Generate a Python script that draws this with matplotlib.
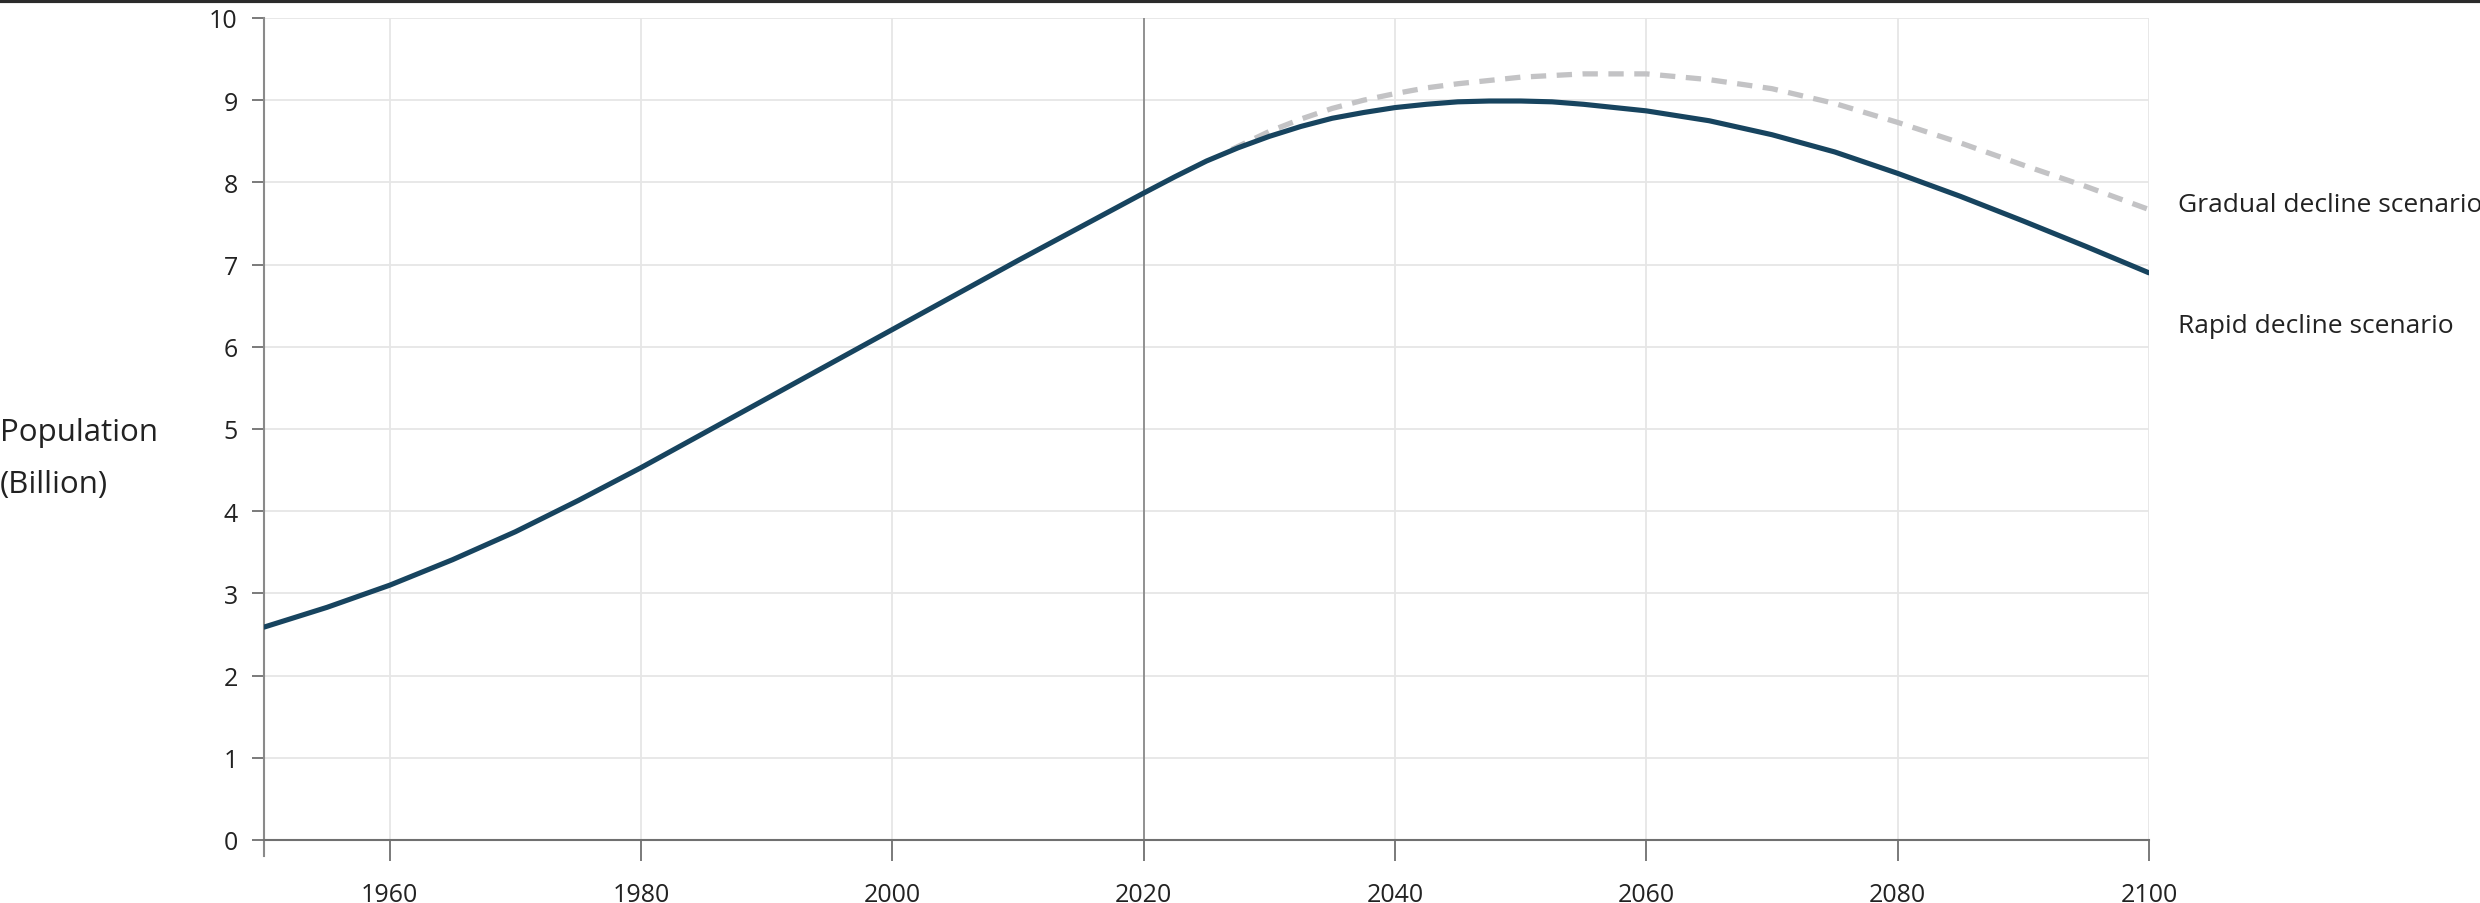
import matplotlib
matplotlib.use("Agg")
import matplotlib.pyplot as plt
from matplotlib.lines import Line2D

plt.rcParams['font.family'] = ['Open Sans', 'DejaVu Sans']

# rapid decline scenario
years_rapid = [1950, 1955, 1960, 1965, 1970, 1975, 1980, 1985, 1990, 1995,
               2000, 2005, 2010, 2015, 2020, 2022.5, 2025, 2027.5, 2030, 2032.5,
               2035, 2037.5, 2040, 2042.5, 2045, 2047.5, 2050, 2052.5, 2055,
               2060, 2065, 2070, 2075, 2080, 2085, 2090, 2095, 2100]
pop_rapid = [2.59, 2.83, 3.10, 3.41, 3.75, 4.13, 4.53, 4.95, 5.37, 5.79,
             6.21, 6.63, 7.05, 7.46, 7.87, 8.07, 8.26, 8.42, 8.56, 8.68,
             8.78, 8.85, 8.91, 8.95, 8.98, 8.99, 8.99, 8.98, 8.95,
             8.87, 8.75, 8.58, 8.37, 8.11, 7.83, 7.53, 7.22, 6.90]

# gradual decline scenario
years_grad = [2027, 2030, 2032.5, 2035, 2037.5, 2040, 2042.5, 2045, 2050,
              2055, 2060, 2065, 2070, 2075, 2080, 2085, 2090, 2095, 2100]
pop_grad = [8.40, 8.62, 8.77, 8.90, 9.00, 9.08, 9.15, 9.20, 9.28,
            9.32, 9.32, 9.25, 9.14, 8.96, 8.73, 8.48, 8.21, 7.95, 7.67]

x_ticks = [1960, 1980, 2000, 2020, 2040, 2060, 2080, 2100]
y_ticks = [0, 1, 2, 3, 4, 5, 6, 7, 8, 9, 10]

fig = plt.figure(figsize=(24.8, 9.04), dpi=100)
ax = fig.add_axes([0.1065, 0.0697, 0.76, 0.9093])

ax.set_xlim(1950, 2100)
ax.set_ylim(0, 10)

# grid
for y in y_ticks[1:]:
    ax.axhline(y, color='#e6e6e6', lw=1.3, zorder=0)
for x in x_ticks:
    ax.axvline(x, color='#e6e6e6', lw=1.3, zorder=0)
ax.axvline(2020, color='#8a8a8a', lw=1.3, zorder=1)

ax.plot(years_grad, pop_grad, color='#c3c3c5', lw=3.8, dashes=(2.9, 2.0), zorder=2,
        solid_capstyle='butt')
ax.plot(years_rapid, pop_rapid, color='#17445f', lw=3.7, zorder=3,
        solid_capstyle='round', solid_joinstyle='round')

for s in ['top', 'right']:
    ax.spines[s].set_visible(False)
ax.spines['left'].set_color('#8a8a8a')
ax.spines['bottom'].set_color('#707070')
ax.spines['left'].set_linewidth(1.5)
ax.spines['bottom'].set_linewidth(1.5)
ax.spines['left'].set_bounds(-0.19, 10)

ax.set_xticks(x_ticks)
ax.set_yticks(y_ticks)
ax.tick_params(axis='x', length=15, width=1.3, color='#707070', pad=15,
               labelsize=18, labelcolor='#222222')
ax.tick_params(axis='y', length=9, width=1.3, color='#707070', pad=10,
               labelsize=18, labelcolor='#222222')

fig.text(0.0, 1 - 433 / 904, 'Population', fontsize=22.5, color='#222222',
         va='center', ha='left')
fig.text(0.0, 1 - 485 / 904, '(Billion)', fontsize=22.5, color='#222222',
         va='center', ha='left')

fig.text(2178 / 2480, 1 - 205 / 904, 'Gradual decline scenario', fontsize=19,
         color='#222222', va='center', ha='left')
fig.text(2178 / 2480, 1 - 327 / 904, 'Rapid decline scenario', fontsize=19,
         color='#222222', va='center', ha='left')

# dark strip along the top edge
fig.add_artist(Line2D([0, 1], [0.998, 0.998], transform=fig.transFigure,
                      color='#2b2b2b', lw=3))

fig.savefig('out.png', dpi=100)
